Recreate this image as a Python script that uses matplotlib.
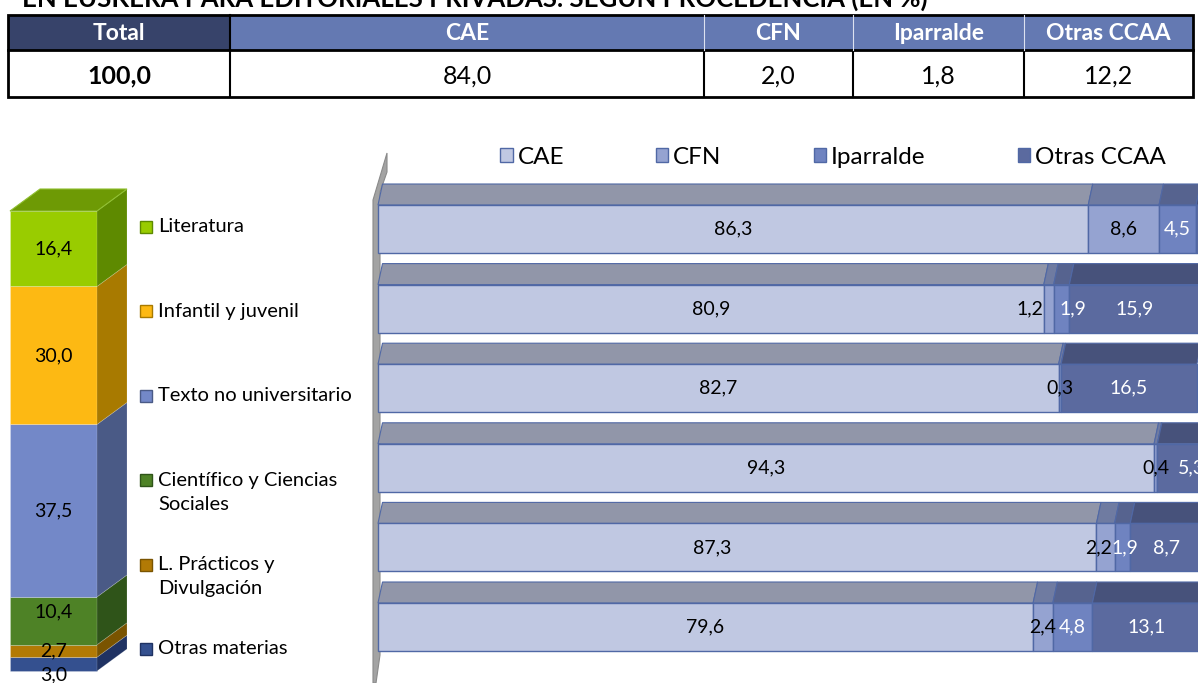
import matplotlib
matplotlib.use('Agg')
import matplotlib.pyplot as plt
from matplotlib.patches import Polygon, Rectangle, Patch

plt.rcParams['font.family'] = ['Lato', 'DejaVu Sans']

# data
title = 'EN EUSKERA PARA EDITORIALES PRIVADAS. SEGÚN PROCEDENCIA (EN %)'
table_headers = ['Total', 'CAE', 'CFN', 'Iparralde', 'Otras CCAA']
table_values = ['100,0', '84,0', '2,0', '1,8', '12,2']

# left stacked bar, bottom to top
subjects = ['Otras materias', 'L. Prácticos y\nDivulgación', 'Científico y Ciencias\nSociales',
            'Texto no universitario', 'Infantil y juvenil', 'Literatura']
subject_share = [3.0, 2.7, 10.4, 37.5, 30.0, 16.4]

# right bars, one row per subject (top row = Literatura)
origins = ['CAE', 'CFN', 'Iparralde', 'Otras CCAA']
cae = [86.3, 80.9, 82.7, 94.3, 87.3, 79.6]
cfn = [8.6, 1.2, 0.3, 0.4, 2.2, 2.4]
iparralde = [4.5, 1.9, 0.0, 0.0, 1.9, 4.8]
otras_ccaa = [0.6, 15.9, 16.5, 5.3, 8.7, 13.1]

# styles
subj_front = ['#34508f', '#b27a05', '#4e8226', '#7388c8', '#fdb913', '#99cc00']
subj_side = ['#1f3262', '#7a5400', '#2f5419', '#4a5a86', '#a87a00', '#5e8a00']
subj_top = '#6e9a05'
orig_front = ['#c0c8e2', '#95a3d1', '#6f83c0', '#5b6a9f']
orig_top = ['#9196a9', '#6f7ba1', '#56638f', '#47527b']
orig_text = ['black', 'black', 'white', 'white']

W, H = 1198, 683
fig = plt.figure(figsize=(W / 100, H / 100), dpi=100)

# background axes in pixel units for table, title and left legend
bg = fig.add_axes([0, 0, 1, 1])
bg.set_xlim(0, W)
bg.set_ylim(H, 0)
bg.axis('off')

bg.text(22, 7, title, fontsize=18.5, fontweight='bold', va='baseline')

col_edges = [8, 230, 704, 853, 1024, 1193]
for k, (head, val) in enumerate(zip(table_headers, table_values)):
    x0, x1 = col_edges[k], col_edges[k + 1]
    fc = '#37436a' if k == 0 else '#6479b2'
    bg.add_patch(Rectangle((x0, 15), x1 - x0, 35, fc=fc, ec='none'))
    bg.text((x0 + x1) / 2, 33, head, color='white', fontsize=16.5, fontweight='bold',
            ha='center', va='center')
    bg.text((x0 + x1) / 2, 76, val, fontsize=18, ha='center', va='center',
            fontweight='bold' if k == 0 else 'normal')
bg.add_patch(Rectangle((8, 15), 1185, 82, fc='none', ec='black', lw=2))
bg.plot([8, 1193], [50, 50], color='black', lw=2)
for k, x in enumerate(col_edges[1:-1]):
    bg.plot([x, x], [50, 97], color='black', lw=1.5)
    bg.plot([x, x], [15, 50], color='black' if k == 0 else '#dde2f0', lw=1.5 if k == 0 else 0.8)

# left legend, top to bottom
for k in range(len(subjects)):
    j = len(subjects) - 1 - k
    y = 227 + 84.4 * k
    bg.add_patch(Rectangle((140, y - 6), 12, 12, fc=subj_front[j], ec=subj_side[j], lw=1))
    for n, line in enumerate(subjects[j].split('\n')):
        bg.text(158, y + 24 * n, line, fontsize=14.5, va='center')

# left 3D stacked column
ax_l = fig.add_axes([0, 0, 140 / W, (683 - 180) / H])
px_l = 4.6  # pixels per percent
ax_l.set_xlim(0, 140)
ax_l.set_ylim((671 - 683) / px_l, (671 - 180) / px_l)
ax_l.axis('off')
dx_l, dy_l = 30, 22 / px_l
bottoms = [sum(subject_share[:k]) for k in range(len(subject_share))]
ax_l.bar(53.5, subject_share, bottom=bottoms, width=87, color=subj_front,
         edgecolor='#ffffff40', lw=0.6)
for b, v, sc in zip(bottoms, subject_share, subj_side):
    ax_l.add_patch(Polygon([(97, b), (97 + dx_l, b + dy_l), (97 + dx_l, b + v + dy_l), (97, b + v)],
                           closed=True, fc=sc, ec='#ffffff30', lw=0.6))
top = sum(subject_share)
ax_l.add_patch(Polygon([(10, top), (97, top), (97 + dx_l, top + dy_l), (10 + dx_l, top + dy_l)],
                       closed=True, fc=subj_top, ec='#8fbf30', lw=0.8))
nudge = [-2.3, 0, 2.0, 0, 0, 0]
for b, v, nd in zip(bottoms, subject_share, nudge):
    ax_l.text(53.5, b + v / 2 + nd, f'{v:.1f}'.replace('.', ','), fontsize=14,
              ha='center', va='center')

# right 3D stacked bars
ax_r = fig.add_axes([370 / W, 0, (W - 370) / W, (683 - 140) / H])
px_x, px_y = 8.23, 79.6
xmax = (W - 378) / px_x
ax_r.set_xlim(-8 / px_x, xmax)
ax_r.set_ylim((683 - 229) / px_y, (140 - 229) / px_y)
ax_r.axis('off')

# side wall
wall = [(373, 683), (373, 200), (387, 153), (387, 172), (380, 192), (380, 655), (376, 683)]
ax_r.add_patch(Polygon([((x - 378) / px_x, (y - 229) / px_y) for x, y in wall], closed=True,
                       fc='#a3a3a3', ec='#8a8a8a', lw=0.8, zorder=0))

series = [cae, cfn, iparralde, otras_ccaa]
rows = list(range(len(cae)))
bh = 48 / px_y
ddx, ddy = 4.5 / px_x, 21 / px_y
# label nudges (row, series) -> percent units, as placed in the original
shift = {(1, 1): -2.3, (1, 2): 1.4, (3, 3): 1.5, (4, 0): -3.0, (4, 1): -0.8, (4, 2): 0.3}
left = [0.0] * len(rows)
for s, vals in enumerate(series):
    ax_r.barh(rows, vals, left=left, height=bh, color=orig_front[s],
              edgecolor='#5068a5', lw=1, label=origins[s], zorder=2)
    for i in rows:
        l, v = left[i], vals[i]
        yt = i - bh / 2
        ax_r.add_patch(Polygon([(l, yt), (l + v, yt), (l + v + ddx, yt - ddy), (l + ddx, yt - ddy)],
                               closed=True, fc=orig_top[s], ec='#5068a5', lw=0.8, zorder=1))
        cx = l + v / 2 + shift.get((i, s), 0)
        if v > 0 and cx < xmax:
            ax_r.text(cx, i, f'{v:.1f}'.replace('.', ','), fontsize=14, color=orig_text[s],
                      ha='center', va='center', zorder=3, clip_on=True)
    left = [a + b for a, b in zip(left, vals)]

handles = [Patch(fc=c, ec='#5068a5', lw=1) for c in orig_front]
fig.legend(handles, origins, loc='center', bbox_to_anchor=(833 / W, 1 - 157 / H), ncol=4,
           frameon=False, fontsize=17.5, handlelength=0.5, handleheight=0.5,
           handletextpad=0.2, columnspacing=3.8)

fig.savefig('out.png', dpi=100)
